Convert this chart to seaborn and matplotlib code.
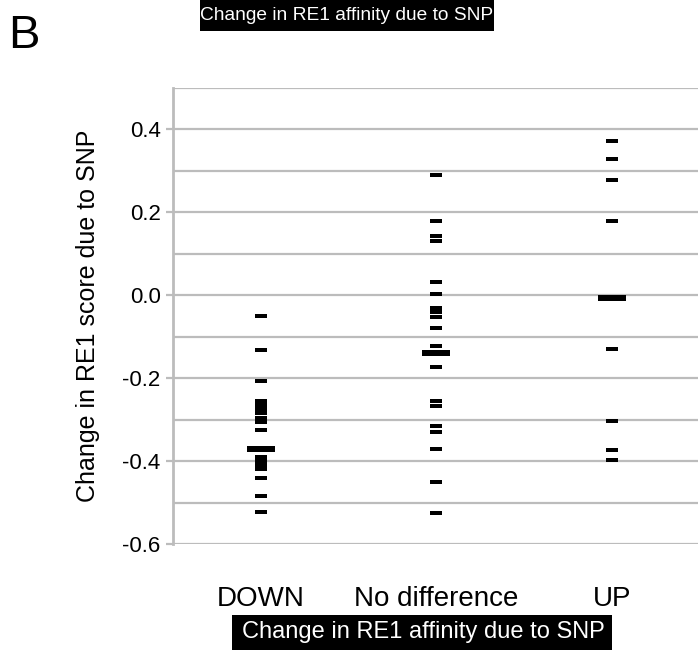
import matplotlib
matplotlib.use("Agg")
import matplotlib.pyplot as plt
from matplotlib.patches import Rectangle
from matplotlib.ticker import FormatStrFormatter, MultipleLocator
import seaborn as sns
import pandas as pd

groups = ["DOWN", "No difference", "UP"]

# per-SNP change in RE1 score
down = [-0.050, -0.131, -0.206, -0.255, -0.265, -0.275, -0.285, -0.295, -0.305,
        -0.326, -0.390, -0.400, -0.410, -0.420, -0.440, -0.484, -0.523]
no_diff = [0.290, 0.178, 0.142, 0.130, 0.032, 0.002, -0.030, -0.040, -0.052,
           -0.080, -0.122, -0.173, -0.256, -0.268, -0.316, -0.331, -0.371,
           -0.450, -0.524]
up = [0.372, 0.328, 0.277, 0.178, -0.129, -0.303, -0.373, -0.397]
medians = [-0.371, -0.139, -0.006]

title = "Change in RE1 affinity due to SNP"
ylabel = "Change in RE1 score due to SNP"

df = pd.DataFrame({
    "group": ["DOWN"] * len(down) + ["No difference"] * len(no_diff) + ["UP"] * len(up),
    "score": down + no_diff + up,
})
med = pd.DataFrame({"group": groups, "score": medians})

sns.set_style("white")
plt.rcParams["font.family"] = ["Liberation Sans", "DejaVu Sans"]
plt.rcParams["axes.unicode_minus"] = False
plt.rcParams["text.color"] = "black"
plt.rcParams["axes.labelcolor"] = "black"

fig = plt.figure(figsize=(6.98, 6.5), dpi=100)
ax = fig.add_axes([0.248, 0.163, 0.754, 0.702])

dash = [(-3, -1), (3, -1), (3, 1), (-3, 1)]
wide = [(-5, -1), (5, -1), (5, 1), (-5, 1)]
sns.stripplot(data=df, x="group", y="score", order=groups, jitter=False,
              marker=dash, s=9, color="black", linewidth=0, ax=ax, zorder=3)
sns.stripplot(data=med, x="group", y="score", order=groups, jitter=False,
              marker=wide, s=20, color="black", linewidth=0, ax=ax, zorder=4)

grid_c = "#bcbcbc"
ax.set_xlim(-0.5, 2.5)
ax.set_ylim(-0.6, 0.5)
ax.yaxis.set_minor_locator(MultipleLocator(0.1))
ax.set_yticks([-0.6, -0.4, -0.2, 0.0, 0.2, 0.4])
ax.yaxis.set_major_formatter(FormatStrFormatter("%.1f"))
ax.grid(axis="y", which="both", color=grid_c, linewidth=1.6, zorder=1)
ax.set_axisbelow(True)
for s in ["top", "right", "bottom"]:
    ax.spines[s].set_visible(False)
ax.spines["left"].set_color(grid_c)
ax.spines["left"].set_linewidth(2.0)
ax.tick_params(axis="y", which="major", direction="out", length=5, width=1.6,
               color=grid_c, labelcolor="black", labelsize=16, pad=4, left=True)
ax.tick_params(axis="y", which="minor", length=0)
ax.tick_params(axis="x", length=0, labelsize=20, labelcolor="black", pad=30)
ax.set_xlabel("")
ax.set_ylabel(ylabel, fontsize=18)
ax.yaxis.set_label_coords(-0.139, 0.5)

fig.text(0.012, 0.926, "B", fontsize=34, ha="left", va="baseline")

# black caption boxes
fig.add_artist(Rectangle((0.2865, 0.952), 0.4212, 0.05, transform=fig.transFigure,
                         fc="black", ec="none"))
fig.text(0.4972, 0.976, title, fontsize=13.8, color="white", ha="center", va="center")
fig.add_artist(Rectangle((0.3324, 0.0), 0.5444, 0.0538, transform=fig.transFigure,
                         fc="black", ec="none"))
fig.text(0.607, 0.027, title, fontsize=17, color="white", ha="center", va="center")

fig.savefig("out.png", dpi=100)
